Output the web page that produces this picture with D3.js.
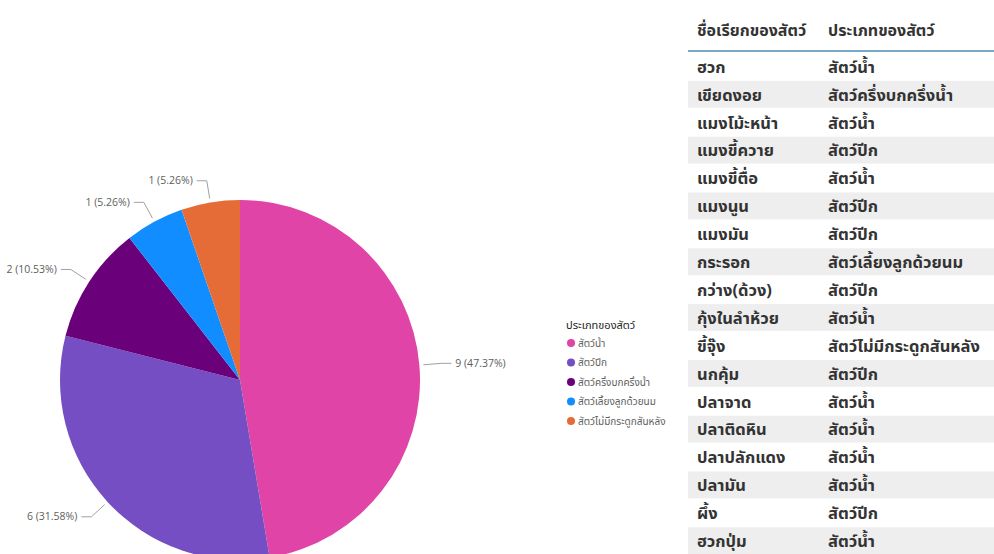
<!DOCTYPE html>
<html><head><meta charset="utf-8">
<script src="https://cdn.jsdelivr.net/npm/d3@7"></script>
<style>
html,body{margin:0;padding:0;background:#fff;}
svg{display:block;}
</style></head>
<body>
<svg id="chart" width="994" height="554"></svg>
<script>
const categories = ["สัตว์น้ำ","สัตว์ปีก","สัตว์ครึ่งบกครึ่งน้ำ","สัตว์เลี้ยงลูกด้วยนม","สัตว์ไม่มีกระดูกสันหลัง"];
const values = [9,6,2,1,1];
const percentLabels = ["47.37%","31.58%","10.53%","5.26%","5.26%"];
const colors = ["#E044A7","#744EC2","#6B007B","#118DFF","#E66C37"];
const legendTitle = "ประเภทของสัตว์";
const tableHeaders = ["ชื่อเรียกของสัตว์","ประเภทของสัตว์"];
const animalNames = ["ฮวก","เขียดงอย","แมงโม้ะหน้า","แมงขี้ควาย","แมงขี้ตื่อ","แมงนูน","แมงมัน","กระรอก","กว่าง(ด้วง)","กุ้งในลำห้วย","ขี้จุ๊ง","นกคุ้ม","ปลาจาด","ปลาติดหิน","ปลาปลักแดง","ปลามัน","ผึ้ง","ฮวกปุ่ม"];
const animalTypes = ["สัตว์น้ำ","สัตว์ครึ่งบกครึ่งน้ำ","สัตว์น้ำ","สัตว์ปีก","สัตว์น้ำ","สัตว์ปีก","สัตว์ปีก","สัตว์เลี้ยงลูกด้วยนม","สัตว์ปีก","สัตว์น้ำ","สัตว์ไม่มีกระดูกสันหลัง","สัตว์ปีก","สัตว์น้ำ","สัตว์น้ำ","สัตว์น้ำ","สัตว์น้ำ","สัตว์ปีก","สัตว์น้ำ"];

const thaiFont = "Tahoma, 'Noto Sans Thai', 'Noto Sans', 'Open Sans', sans-serif";
const svg = d3.select("#chart");

// Pie
const cx = 240, cy = 380, r = 180;
const color = d3.scaleOrdinal().domain(categories).range(colors);
const pie = d3.pie().sort(null).value(d => d.v);
const data = categories.map((c,i)=>({c, v: values[i], p: percentLabels[i]}));
const arcs = pie(data);
const arc = d3.arc().innerRadius(0).outerRadius(r);
const g = svg.append("g").attr("transform",`translate(${cx},${cy})`);
g.selectAll("path.slice").data(arcs).join("path")
  .attr("class","slice")
  .attr("d",arc)
  .attr("fill",d=>color(d.data.c));

const arcStart = d3.arc().innerRadius(r+4).outerRadius(r+4);
const arcElbow = d3.arc().innerRadius(r+22).outerRadius(r+22);
arcs.forEach(d=>{
  const mid = (d.startAngle+d.endAngle)/2;
  const p1 = arcStart.centroid(d);
  const p2 = arcElbow.centroid(d);
  const right = mid < Math.PI;
  const p3 = [p2[0] + (right? 10 : -10), p2[1]];
  g.append("polyline")
    .attr("points",[p1,p2,p3].map(p=>p.join(",")).join(" "))
    .attr("fill","none").attr("stroke","#a0a0a0").attr("stroke-width",1);
  g.append("text")
    .attr("x", p3[0] + (right? 4 : -4))
    .attr("y", p3[1])
    .attr("dy","0.35em")
    .attr("text-anchor", right? "start":"end")
    .attr("font-family","'Open Sans', 'Noto Sans', sans-serif")
    .attr("font-size",10.5)
    .attr("fill","#605E5C")
    .text(`${d.data.v} (${d.data.p})`);
});

// Legend
const lg = svg.append("g").attr("transform","translate(566,325)");
lg.append("text").attr("x",0).attr("y",0).attr("dy","0.35em")
  .attr("font-family",thaiFont).attr("font-size",11).attr("fill","#252423")
  .text(legendTitle);
const ly = d3.scalePoint().domain(categories).range([18,96]);
categories.forEach(c=>{
  lg.append("circle").attr("cx",5).attr("cy",ly(c)).attr("r",4).attr("fill",color(c));
  lg.append("text").attr("x",12).attr("y",ly(c)).attr("dy","0.35em")
    .attr("font-family",thaiFont).attr("font-size",10).attr("fill","#605E5C").text(c);
});

// Table
const tx0 = 688, tx1 = 994;
const col1 = 697, col2 = 828;
const rowH = 27.9, tableTop = 52;
const tg = svg.append("g");
const rowY = d3.scaleLinear().domain([0, animalNames.length]).range([tableTop, tableTop + rowH*animalNames.length]);
animalNames.forEach((n,i)=>{
  if (i % 2 === 1) {
    tg.append("rect").attr("x",tx0).attr("y",rowY(i)+1).attr("width",tx1-tx0).attr("height",rowH-1).attr("fill","#EEEEEE");
  }
  tg.append("text").attr("x",col1).attr("y",rowY(i)+rowH/2+1).attr("dy","0.35em")
    .attr("font-family",thaiFont).attr("font-size",16.5).attr("font-weight","bold").attr("fill","#333").text(n);
  tg.append("text").attr("x",col2).attr("y",rowY(i)+rowH/2+1).attr("dy","0.35em")
    .attr("font-family",thaiFont).attr("font-size",16.5).attr("font-weight","bold").attr("fill","#333").text(animalTypes[i]);
});
tg.append("line").attr("x1",tx0).attr("x2",tx1).attr("y1",tableTop-1).attr("y2",tableTop-1)
  .attr("stroke","#7AA9C8").attr("stroke-width",2);
[col1,col2].forEach((x,i)=>{
  tg.append("text").attr("x",x).attr("y",30).attr("dy","0.35em")
    .attr("font-family",thaiFont).attr("font-size",16).attr("font-weight","bold").attr("fill","#333").text(tableHeaders[i]);
});
</script>
</body></html>
